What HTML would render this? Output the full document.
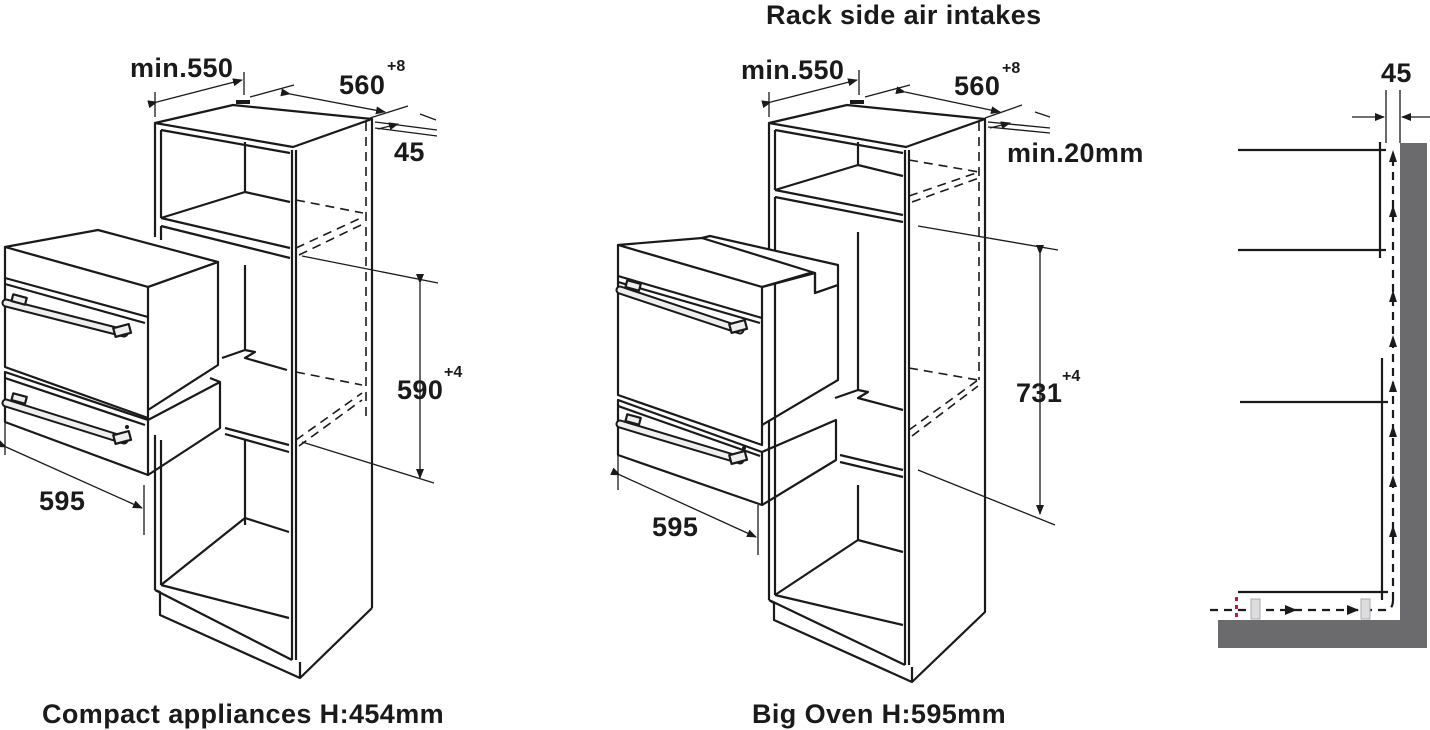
<!DOCTYPE html>
<html><head><meta charset="utf-8"><style>
html,body{margin:0;padding:0;background:#fff;}
svg{display:block;}
text{font-family:"Liberation Sans",Arial,sans-serif;font-weight:bold;fill:#1a1a1a;}
.t{font-size:27px;letter-spacing:0.4px;}
.s{font-size:16px;}
</style></head><body>
<svg width="1430" height="730" viewBox="0 0 1430 730" xmlns="http://www.w3.org/2000/svg">
<defs>
<marker id="ah" markerWidth="10" markerHeight="8" refX="9" refY="4" orient="auto" markerUnits="userSpaceOnUse"><path d="M0,0 L10,4 L0,8 z" fill="#1a1a1a"/></marker>
</defs>
<g stroke="#1a1a1a" fill="none" stroke-width="2.2" stroke-linejoin="round">

<!-- ============ LEFT DIAGRAM ============ -->
<path d="M155,123 L233,105 L372,119 L293,147 Z"/>
<path d="M155,123 L155,237"/>
<path d="M161,130 L290,153 M161,130 L161,218"/>
<path d="M245,142 L245,192 M161,218 L245,192 L290,202 M161,218 L290,248"/>
<path d="M161,226 L290,258 M161,226 L161,240"/>
<path d="M292,150 L292,660 M296,150 L296,660"/>
<path d="M372,119 L372,608"/>
<path d="M366,122 L366,420" stroke-dasharray="9,6" stroke-width="1.6"/>
<path d="M296,200 L363,213 M296,248 L363,217 M299,255 L363,224 M296,372 L362,385 M296,440 L362,393 M299,446 L362,400" stroke-dasharray="9,6" stroke-width="1.6"/>
<path d="M245,265 L245,350 M222,358 L245,350 L255,352 L245,358 L287,370"/>
<path d="M245,440 L245,525"/>
<path d="M225,428 L289,445 M225,434 L289,452"/>
<path d="M155,435 L155,590 M161,440 L161,585"/>
<path d="M161,585 L245,518 L289,532 M161,585 L289,618"/>
<path d="M155,590 L160,592 L160,615 L300,678 L372,608"/>
<path d="M155,590 L292,660 M300,662 L300,678"/>

<path d="M5,247 L98,230 L218,262 L148,287 Z" fill="#fff"/>
<path d="M5,247 L148,287 L148,418 L5,367 Z" fill="#fff"/>
<path d="M5,278 L148,317 M5,284 L145,323"/>
<path d="M148,287 L218,262 L218,365 L148,410"/>
<path d="M5,372 L148,420 L148,475 L5,422 Z" fill="#fff"/>
<path d="M5,378 L145,425"/>
<path d="M148,420 L220,382 L220,428 L148,475 M210,378 L220,382"/>
<path d="M6,303 L124,333" stroke-width="9" stroke="#1a1a1a" stroke-linecap="round"/>
<path d="M6,303 L124,333" stroke-width="5" stroke="#eee" stroke-linecap="round"/>
<rect x="114" y="326" width="16" height="9" fill="#eee" transform="rotate(-15 122 330)"/>
<rect x="12" y="296" width="14" height="7" fill="#eee" transform="rotate(15 19 300)"/>
<path d="M6,403 L124,440" stroke-width="9" stroke="#1a1a1a" stroke-linecap="round"/>
<path d="M6,403 L124,440" stroke-width="5" stroke="#eee" stroke-linecap="round"/>
<rect x="114" y="433" width="16" height="9" fill="#eee" transform="rotate(-15 122 437)"/>
<rect x="12" y="395" width="14" height="7" fill="#eee" transform="rotate(15 19 399)"/>
<circle cx="127" cy="427" r="2" fill="#1a1a1a" stroke="none"/>

<g stroke-width="1.3">
<path d="M155,92 L155,117 M244,72 L244,95"/>
<path d="M157,102 L242,80" marker-start="url(#ah)" marker-end="url(#ah)"/>
<path d="M250,97 L294,85"/>
<path d="M290,94 L385,112" marker-start="url(#ah)" marker-end="url(#ah)"/>
<path d="M370,118 L408,106 M375,122 L437,130 M375,128 L437,136"/>
<path d="M420,114 L436,120 M378,129 L398,124" marker-end="url(#ah)"/>
<path d="M302,256 L438,283 M302,442 L434,483"/>
<path d="M420,283 L420,478" marker-start="url(#ah)" marker-end="url(#ah)"/>
<path d="M5,418 L5,455 M144,485 L144,535"/>
<path d="M6,447 L142,508" marker-start="url(#ah)" marker-end="url(#ah)"/>
</g>
<rect x="236" y="100" width="14" height="4" fill="#1a1a1a" stroke="none"/>

<!-- ============ MIDDLE DIAGRAM ============ -->
<path d="M769,123 L847,105 L985,119 L906,147 Z"/>
<path d="M769,123 L769,280 M775,130 L775,190 M775,130 L903,153"/>
<path d="M858,142 L858,165 M775,190 L858,165 L903,176 M775,190 L903,215"/>
<path d="M775,197 L903,222 M775,197 L775,560"/>
<path d="M858,232 L858,390 M835,398 L858,390 L868,392 L858,398 L903,410"/>
<path d="M840,455 L903,470 M840,462 L903,477"/>
<path d="M858,485 L858,540"/>
<path d="M905,150 L905,665 M909,150 L909,665"/>
<path d="M985,119 L985,595"/>
<path d="M979,122 L979,380" stroke-dasharray="9,6" stroke-width="1.6"/>
<path d="M909,160 L979,172 M909,196 L979,172 M912,202 L979,178 M909,368 L978,380 M909,430 L978,380 M912,436 L978,386" stroke-dasharray="9,6" stroke-width="1.6"/>
<path d="M769,420 L769,600 M775,560 L775,595"/>
<path d="M775,595 L858,540 L903,552 M775,595 L903,625"/>
<path d="M769,600 L774,603 L774,620 L912,682 L985,612 L985,595 M769,600 L905,665 M912,667 L912,682"/>

<path d="M618,245 L702,238 L820,270 L762,287 Z" fill="#fff"/>
<path d="M702,238 L710,236 L838,265 L838,285 L815,293 L815,273 Z" fill="#fff"/>
<path d="M618,245 L762,287 L762,445 L618,395 Z" fill="#fff"/>
<path d="M618,276 L762,318 M618,282 L760,323"/>
<path d="M762,287 L815,273 L815,293 L838,285 L838,380 L762,425"/>
<path d="M618,400 L762,452 L762,505 L618,455 Z" fill="#fff"/>
<path d="M618,406 L760,456"/>
<path d="M762,452 L836,420 L836,460 L762,505"/>
<path d="M620,290 L740,330" stroke-width="9" stroke-linecap="round"/>
<path d="M620,290 L740,330" stroke-width="5" stroke="#eee" stroke-linecap="round"/>
<rect x="730" y="322" width="16" height="9" fill="#eee" transform="rotate(-15 738 326)"/>
<rect x="626" y="282" width="14" height="7" fill="#eee" transform="rotate(15 633 286)"/>
<path d="M620,424 L740,460" stroke-width="9" stroke-linecap="round"/>
<path d="M620,424 L740,460" stroke-width="5" stroke="#eee" stroke-linecap="round"/>
<rect x="730" y="453" width="16" height="9" fill="#eee" transform="rotate(-15 738 457)"/>
<rect x="626" y="416" width="14" height="7" fill="#eee" transform="rotate(15 633 420)"/>
<circle cx="744" cy="448" r="2" fill="#1a1a1a" stroke="none"/>

<g stroke-width="1.3">
<path d="M769,92 L769,117 M859,70 L859,95"/>
<path d="M771,102 L857,80" marker-start="url(#ah)" marker-end="url(#ah)"/>
<path d="M865,97 L910,85"/>
<path d="M905,92 L1000,112" marker-start="url(#ah)" marker-end="url(#ah)"/>
<path d="M985,118 L1022,105 M988,122 L1050,128 M988,127 L1050,133"/>
<path d="M1035,112 L1050,117 M990,128 L1010,123" marker-end="url(#ah)"/>
<path d="M918,226 L1058,250 M918,470 L1055,525"/>
<path d="M1040,254 L1040,514" marker-start="url(#ah)" marker-end="url(#ah)"/>
<path d="M618,455 L618,490 M758,505 L758,555"/>
<path d="M620,475 L756,537" marker-start="url(#ah)" marker-end="url(#ah)"/>
</g>
<rect x="850" y="100" width="14" height="4" fill="#1a1a1a" stroke="none"/>
</g>

<!-- ============ RIGHT DIAGRAM ============ -->
<rect x="1400" y="143" width="27" height="505" fill="#6b6b6d"/>
<rect x="1218" y="620" width="209" height="28" fill="#6b6b6d"/>
<g stroke="#1a1a1a" stroke-width="2.2" fill="none">
<path d="M1238,150 L1386,150 M1238,250 L1386,250 M1380,142 L1380,258"/>
<path d="M1240,402 L1388,402 M1382,358 L1382,600 M1238,592 L1388,592"/>
<path d="M1393,600 L1393,155" stroke-dasharray="8,6"/>
<path d="M1210,610 L1385,610 Q1393,610 1393,600" stroke-dasharray="8,6"/>
</g>
<g fill="#1a1a1a">
<path d="M1393,150 l-4,12 l8,0z M1393,205 l-4,12 l8,0z M1393,290 l-4,12 l8,0z M1393,335 l-4,12 l8,0z M1393,380 l-4,12 l8,0z M1393,425 l-4,12 l8,0z M1393,475 l-4,12 l8,0z M1393,525 l-4,12 l8,0z"/>
<path d="M1285,605 l12,5 l-12,5z M1347,605 l12,5 l-12,5z"/>
</g>
<rect x="1251" y="599" width="9" height="20" fill="#ddd" stroke="#aaa"/>
<rect x="1361" y="599" width="9" height="20" fill="#ddd" stroke="#aaa"/>
<rect x="1235" y="597" width="3" height="4" fill="#b0203a"/><rect x="1235" y="605" width="3" height="4" fill="#b0203a"/><rect x="1235" y="613" width="3" height="4" fill="#b0203a"/>
<g stroke="#1a1a1a" stroke-width="1.3">
<path d="M1386,90 L1386,143 M1400,90 L1400,143"/>
<path d="M1352,117 L1384,117" marker-end="url(#ah)"/>
<path d="M1430,117 L1402,117" marker-end="url(#ah)"/>
</g>

<!-- text -->
<text class="t" x="130" y="77">min.550</text>
<text class="t" x="339" y="94">560</text><text class="s" x="387" y="71">+8</text>
<text class="t" x="394" y="161">45</text>
<text class="t" x="397" y="399">590</text><text class="s" x="444" y="377">+4</text>
<text class="t" x="39" y="510">595</text>
<text class="t" x="42" y="723">Compact appliances H:454mm</text>
<text class="t" x="766" y="24">Rack side air intakes</text>
<text class="t" x="741" y="79">min.550</text>
<text class="t" x="954" y="95">560</text><text class="s" x="1002" y="73">+8</text>
<text class="t" x="1007" y="162">min.20mm</text>
<text class="t" x="1016" y="402">731</text><text class="s" x="1062" y="381">+4</text>
<text class="t" x="652" y="536">595</text>
<text class="t" x="752" y="723">Big Oven H:595mm</text>
<text class="t" x="1381" y="82">45</text>
</svg>
</body></html>
